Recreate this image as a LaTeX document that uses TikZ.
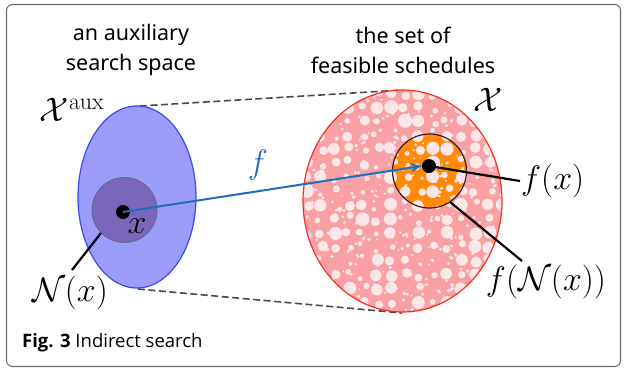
\RequirePackage{fix-cm}
\documentclass[tikz,border=0pt]{standalone}
\usepackage{fontspec}
\newfontfamily\headfont{Noto Sans}
\newfontfamily\capfont{Open Sans}
\usetikzlibrary{arrows.meta}
\definecolor{frameg}{HTML}{6E6E6E}
\definecolor{auxfill}{HTML}{9C9CFA}
\definecolor{auxline}{HTML}{3A4BF5}
\definecolor{nbfill}{HTML}{7A66BC}
\definecolor{nbline}{HTML}{6A6A8A}
\definecolor{pinkfill}{HTML}{F8A0A3}
\definecolor{redline}{HTML}{F5301E}
\definecolor{bubblec}{HTML}{FCE6E8}
\definecolor{orangefill}{HTML}{FF8A0A}
\definecolor{darkline}{HTML}{3A2020}
\definecolor{arrowblue}{HTML}{1E6EC0}
\definecolor{dashg}{HTML}{4A4A4A}
\tikzset{
  heading/.style={font=\headfont\fontsize{21.5}{30}\selectfont, align=center, inner sep=0pt},
  mlabel/.style={font=\fontsize{34}{38}\selectfont, inner sep=1pt},
  dot/.style={circle, fill=black, minimum size=14pt, inner sep=0pt},
  leader/.style={black, line width=2.2pt},
  guide/.style={dashg, dash pattern=on 7pt off 3.5pt, line width=1.6pt},
  bubble/.style={fill=bubblec}
}
\begin{document}
\begin{tikzpicture}[x=1pt,y=-1pt]
\useasboundingbox (0,0) rectangle (624,370);
% frame
\draw[frameg, line width=1.1pt, rounded corners=6pt] (6.5,4.5) rectangle (620.5,366.5);

% headings
\node[heading] (h1) at (131,50) {an auxiliary\\search space};
\node[heading] (h2) at (403,50) {the set of\\feasible schedules};

% dashed guide lines
\coordinate (la) at (140,106);
\coordinate (lb) at (138,289);
\coordinate (ra) at (402,90);
\coordinate (rb) at (402,313);
\draw[guide] (la) -- (ra);
\draw[guide] (lb) -- (rb);

% left ellipse
\fill[auxfill] (137,197) ellipse [x radius=59, y radius=91];
\draw[auxline, line width=1.2pt] (137,197) ellipse [x radius=59, y radius=91];
\node[circle, fill=nbfill, draw=nbline, line width=1pt, minimum size=65pt, inner sep=0pt] (nb) at (124.5,210) {};
\node[dot] (x) at (123,212) {};
\node[mlabel] (xl) at (137,226) {$x$};

% right ellipse
\fill[pinkfill] (402.5,201) ellipse [x radius=99.5, y radius=111];
\fill[orangefill] (429.5,171) circle [radius=37];
\pgfmathsetseed{5}
\begin{scope}
\clip (402.5,201) ellipse [x radius=99.5, y radius=111];
\foreach \i in {0,...,15}{
  \foreach \j in {0,...,17}{
    \pgfmathsetmacro{\br}{1.8+5.4*rnd^1.3}
    \pgfmathsetmacro{\bx}{300+14*\i+7+(7.4-\br)*(2*rnd-1)}
    \pgfmathsetmacro{\by}{86+14*\j+7+(7.4-\br)*(2*rnd-1)}
    \fill[bubble] (\bx,\by) circle [radius=\br];
  }
}
\foreach \i in {1,...,350}{
  \pgfmathsetmacro{\bx}{300+206*rnd}
  \pgfmathsetmacro{\by}{88+228*rnd}
  \pgfmathsetmacro{\br}{0.9+1.1*rnd}
  \fill[bubble] (\bx,\by) circle [radius=\br];
}
\end{scope}
\draw[redline, line width=1.2pt] (402.5,201) ellipse [x radius=99.5, y radius=111];
\node[circle, draw=darkline, line width=1.2pt, minimum size=74pt, inner sep=0pt] (fn) at (429.5,171) {};
\node[dot] (fx) at (429,166) {};

% labels
\node[mlabel] (Xaux) at (72,110) {$\mathcal{X}^{\mathrm{aux}}$};
\node[mlabel] (X) at (488,100) {$\mathcal{X}$};
\node[mlabel] (Nx) at (70,293) {$\mathcal{N}(x)$};
\node[mlabel, anchor=west] (fxl) at (520,181) {$f(x)$};
\node[mlabel] (fNx) at (546,282) {$f(\mathcal{N}(x))$};
\node[mlabel, text=arrowblue] (fl) at (258,165) {$f$};

% connectors
\draw[arrowblue, line width=2pt, -{Stealth[length=11pt,width=9pt]}] (x.center) -- (fx.west);
\draw[leader] (fx.center) -- (fxl.west);
\coordinate (nbt) at (101,233);
\coordinate (nbe) at (72,270);
\draw[leader] (nbt) -- (nbe);
\coordinate (fnt) at (450,202);
\coordinate (fne) at (522,261);
\draw[leader] (fnt) -- (fne);

% caption
\node[anchor=west, font=\capfont\fontsize{18.5}{22}\selectfont, inner sep=0pt] (cap) at (22,343) {\textbf{Fig. 3} Indirect search};
\end{tikzpicture}
\end{document}
